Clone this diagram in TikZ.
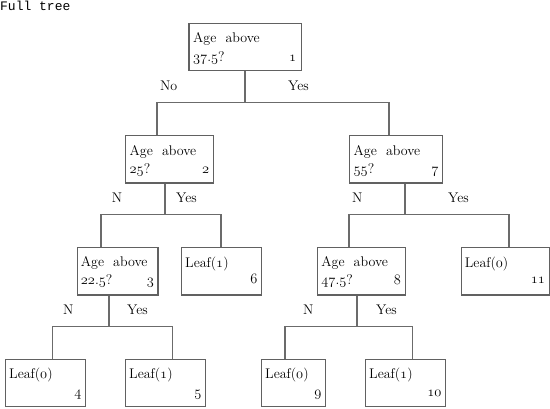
\documentclass[tikz,border=0pt]{standalone}
\usepackage{fontspec}
\newfontfamily\monofnt{Liberation Mono}
\newcommand{\osn}[1]{{\usefont{OML}{cmm}{m}{it}#1}}
\tikzset{
  box/.style={draw=black!62, line width=1.2pt, anchor=north west, inner sep=0pt},
  conn/.style={draw=black!58, line width=1.2pt},
  txt/.style={anchor=base west, inner sep=0pt, font=\fontsize{14}{16}\selectfont},
  num/.style={anchor=base east, inner sep=0pt, font=\fontsize{14}{16}\selectfont},
  elab/.style={anchor=base west, inner sep=0pt, font=\fontsize{14}{16}\selectfont},
}
\newcommand{\agetxt}{Age\hspace{0.65em}above}
\begin{document}
\begin{tikzpicture}[x=1pt,y=-1pt]
\useasboundingbox (0,0) rectangle (550,408);
\node[anchor=base west, inner sep=0pt, font=\monofnt\fontsize{13}{15}\selectfont] (title) at (0,10) {Full tree};

% boxes
\node[box, minimum width=112.4pt, minimum height=47.3pt] (n1) at (188.3,22.7) {};
\node[box, minimum width=87.7pt, minimum height=47.3pt] (n2) at (125,135) {};
\node[box, minimum width=93pt, minimum height=47.3pt] (n7) at (349,135) {};
\node[box, minimum width=80.6pt, minimum height=47.8pt] (n3) at (76.7,246.5) {};
\node[box, minimum width=80pt, minimum height=47.8pt] (n6) at (181,246.5) {};
\node[box, minimum width=88.3pt, minimum height=47.8pt] (n8) at (316.7,246.5) {};
\node[box, minimum width=88.3pt, minimum height=47.8pt] (n11) at (460.7,246.5) {};
\node[box, minimum width=80pt, minimum height=47.5pt] (n4) at (5,358.5) {};
\node[box, minimum width=80pt, minimum height=47.5pt] (n5) at (125,358.5) {};
\node[box, minimum width=64pt, minimum height=47.5pt] (n9) at (261,358.5) {};
\node[box, minimum width=80pt, minimum height=47.5pt] (n10) at (365,358.5) {};

% box texts
\node[txt] (t1a) at ([shift={(4.7,20)}]n1.north west) {\agetxt};
\node[txt] (t1b) at ([shift={(4.7,38.3)}]n1.north west) {\osn{37}.\osn{5}?};
\node[num] (t1c) at ([shift={(-5.5,38.3)}]n1.north east) {\osn{1}};

\node[txt] (t2a) at ([shift={(4.5,20)}]n2.north west) {\agetxt};
\node[txt] (t2b) at ([shift={(4.5,38.3)}]n2.north west) {\osn{25}?};
\node[num] (t2c) at ([shift={(-4.5,38.3)}]n2.north east) {\osn{2}};

\node[txt] (t7a) at ([shift={(4.5,20)}]n7.north west) {\agetxt};
\node[txt] (t7b) at ([shift={(4.5,38.3)}]n7.north west) {\osn{55}?};
\node[num] (t7c) at ([shift={(-4.5,38.3)}]n7.north east) {\osn{7}};

\node[txt] (t3a) at ([shift={(4,20)}]n3.north west) {\agetxt};
\node[txt] (t3b) at ([shift={(4,38.3)}]n3.north west) {\osn{22}.\osn{5}?};
\node[num] (t3c) at ([shift={(-4.5,38.3)}]n3.north east) {\osn{3}};

\node[txt] (t6a) at ([shift={(4,20.5)}]n6.north west) {Leaf(\osn{1})};
\node[num] (t6c) at ([shift={(-4.5,36.5)}]n6.north east) {\osn{6}};

\node[txt] (t8a) at ([shift={(4.5,20)}]n8.north west) {\agetxt};
\node[txt] (t8b) at ([shift={(4.5,38.3)}]n8.north west) {\osn{47}.\osn{5}?};
\node[num] (t8c) at ([shift={(-5,38.3)}]n8.north east) {\osn{8}};

\node[txt] (t11a) at ([shift={(4,20.5)}]n11.north west) {Leaf(\osn{0})};
\node[num] (t11c) at ([shift={(-5,36.5)}]n11.north east) {\osn{11}};

\node[txt] (t4a) at ([shift={(4,20)}]n4.north west) {Leaf(\osn{0})};
\node[num] (t4c) at ([shift={(-4.5,38)}]n4.north east) {\osn{4}};
\node[txt] (t5a) at ([shift={(4,20)}]n5.north west) {Leaf(\osn{1})};
\node[num] (t5c) at ([shift={(-4.5,38)}]n5.north east) {\osn{5}};
\node[txt] (t9a) at ([shift={(4,20)}]n9.north west) {Leaf(\osn{0})};
\node[num] (t9c) at ([shift={(-4.5,38)}]n9.north east) {\osn{9}};
\node[txt] (t10a) at ([shift={(4,20)}]n10.north west) {Leaf(\osn{1})};
\node[num] (t10c) at ([shift={(-4.5,38)}]n10.north east) {\osn{10}};

% junction coordinates
\coordinate (m1) at (245,102.7);
\coordinate (l1) at (157,102.7);
\coordinate (r1) at (389,102.7);
\coordinate (m2) at (165,214.3);
\coordinate (l2) at (101,214.3);
\coordinate (r2) at (221,214.3);
\coordinate (m7) at (405,214.3);
\coordinate (l7) at (349,214.3);
\coordinate (r7) at (509,214.3);
\coordinate (m3) at (109,326.7);
\coordinate (l3) at (52.7,326.7);
\coordinate (r3) at (172.7,326.7);
\coordinate (m8) at (357,326.7);
\coordinate (l8) at (285,326.7);
\coordinate (r8) at (412.7,326.7);

% connectors
\draw[conn] (m1 |- n1.south) -- (m1);
\draw[conn] (n2.north -| l1) |- (r1) -- (r1 |- n7.north);
\draw[conn] (m2 |- n2.south) -- (m2);
\draw[conn] (n3.north -| l2) |- (r2) -- (r2 |- n6.north);
\draw[conn] (m7 |- n7.south) -- (m7);
\draw[conn] (n8.north -| l7) |- (r7) -- (r7 |- n11.north);
\draw[conn] (m3 |- n3.south) -- (m3);
\draw[conn] (n4.north -| l3) |- (r3) -- (r3 |- n5.north);
\draw[conn] (m8 |- n8.south) -- (m8);
\draw[conn] (n9.north -| l8) |- (r8) -- (r8 |- n10.north);

% edge labels
\node[elab] (e1n) at (160,90.7) {No};
\node[elab] (e1y) at (288,90.7) {Yes};
\node[elab] (e2n) at (111.7,202.3) {N};
\node[elab] (e2y) at (176,202.3) {Yes};
\node[elab] (e7n) at (352,202.3) {N};
\node[elab] (e7y) at (448,202.3) {Yes};
\node[elab] (e3n) at (63,314.3) {N};
\node[elab] (e3y) at (127,314.3) {Yes};
\node[elab] (e8n) at (303,314.3) {N};
\node[elab] (e8y) at (376,314.3) {Yes};
\end{tikzpicture}
\end{document}
